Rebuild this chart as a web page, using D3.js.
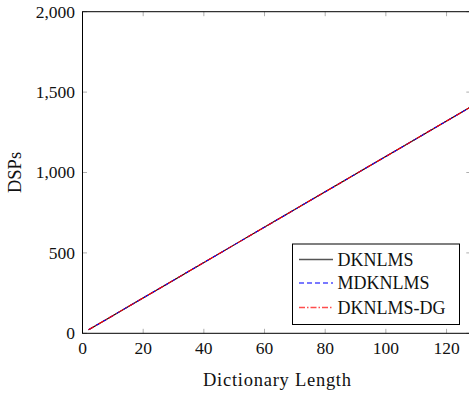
<!DOCTYPE html>
<html>
<head>
<meta charset="utf-8">
<script src="https://cdn.jsdelivr.net/npm/d3@7"></script>
<style>
  html, body { margin: 0; padding: 0; background: #fff; overflow: hidden; }
  svg { display: block; }
</style>
</head>
<body>
<svg id="chart" width="469" height="394"></svg>
<script>
// Dictionary lengths and DSP usage for each algorithm
const dictLength = [2, 8, 16, 32, 48, 64, 80, 96, 112, 128];
const dknlms     = [22, 88, 176, 352, 528, 704, 880, 1056, 1232, 1408];
const mdknlms    = [22, 88, 176, 352, 528, 704, 880, 1056, 1232, 1408];
const dknlmsDg   = [22, 88, 176, 352, 528, 704, 880, 1056, 1232, 1408];

const seriesNames = ["DKNLMS", "MDKNLMS", "DKNLMS-DG"];
const xTicks = [0, 20, 40, 60, 80, 100, 120];
const yTicks = [0, 500, 1000, 1500, 2000];

const FONT = "Liberation Serif";
const svg = d3.select("#chart");
const plotL = 82.5, plotR = 470.8, plotT = 11.7, plotB = 333.3;

const x = d3.scaleLinear().domain([0, 128]).range([plotL, plotR]);
const y = d3.scaleLinear().domain([0, 2000]).range([plotB, plotT]);

const fmt = d3.format(",");

// tick marks (inside, mirrored on opposite sides)
const tickLen = 4.5;
const ticks = svg.append("g").attr("stroke", "#999").attr("stroke-width", 0.8);
xTicks.forEach(t => {
  ticks.append("line").attr("x1", x(t)).attr("x2", x(t)).attr("y1", plotB).attr("y2", plotB - tickLen);
  ticks.append("line").attr("x1", x(t)).attr("x2", x(t)).attr("y1", plotT).attr("y2", plotT + tickLen);
});
yTicks.forEach(t => {
  ticks.append("line").attr("x1", plotL).attr("x2", plotL + tickLen).attr("y1", y(t)).attr("y2", y(t));
  ticks.append("line").attr("x1", plotR).attr("x2", plotR - tickLen).attr("y1", y(t)).attr("y2", y(t));
});

// tick labels
svg.append("g").selectAll("text").data(xTicks).join("text")
  .attr("x", d => x(d)).attr("y", plotB + 20.5)
  .attr("text-anchor", "middle").attr("font-family", FONT).attr("font-size", 17.5)
  .attr("fill", "#111")
  .text(d => fmt(d));
svg.append("g").selectAll("text").data(yTicks).join("text")
  .attr("x", plotL - 7.5).attr("y", d => y(d) + 5.8)
  .attr("text-anchor", "end").attr("font-family", FONT).attr("font-size", 17.5)
  .attr("fill", "#111")
  .text(d => fmt(d));

// axis titles
svg.append("text").attr("x", 277).attr("y", 386)
  .attr("text-anchor", "middle").attr("font-family", FONT).attr("font-size", 18.5)
  .attr("fill", "#111").attr("textLength", 148)
  .text("Dictionary Length");
svg.append("text")
  .attr("transform", `translate(20.5,${(plotT + plotB) / 2}) rotate(-90)`)
  .attr("text-anchor", "middle").attr("font-family", FONT).attr("font-size", 18.5)
  .attr("fill", "#111").text("DSPs");

// series
const styles = [
  { values: dknlms,   color: "#000",    legend: "#555",    dash: null },
  { values: mdknlms,  color: "#0000ff", legend: "#4d4dff", dash: "5,3" },
  { values: dknlmsDg, color: "#ff0000", legend: "#ff4d4d", dash: "6,2,1.5,2" }
];
const line = d3.line().x((d, i) => x(dictLength[i])).y(d => y(d));
const plot = svg.append("g");
styles.forEach(s => {
  plot.append("path").datum(s.values)
    .attr("d", line)
    .attr("fill", "none")
    .attr("stroke", s.color)
    .attr("stroke-width", 1.1)
    .attr("stroke-dasharray", s.dash);
});

// frame
svg.append("rect").attr("x", plotL).attr("y", plotT)
  .attr("width", plotR - plotL).attr("height", plotB - plotT)
  .attr("fill", "none").attr("stroke", "#000").attr("stroke-width", 1);

// legend
const lg = svg.append("g");
lg.append("rect").attr("x", 292.5).attr("y", 244).attr("width", 167).attr("height", 80.5)
  .attr("fill", "#fff").attr("stroke", "#000").attr("stroke-width", 1);
const rowY = [259.5, 283, 307.5];
styles.forEach((s, i) => {
  lg.append("line").attr("x1", 299).attr("x2", 333).attr("y1", rowY[i]).attr("y2", rowY[i])
    .attr("stroke", s.legend).attr("stroke-width", 1.3)
    .attr("stroke-dasharray", s.dash);
  lg.append("text").attr("x", 337.5).attr("y", rowY[i] + 6)
    .attr("font-family", FONT).attr("font-size", 18)
    .attr("fill", "#111").text(seriesNames[i]);
});
</script>
</body>
</html>
